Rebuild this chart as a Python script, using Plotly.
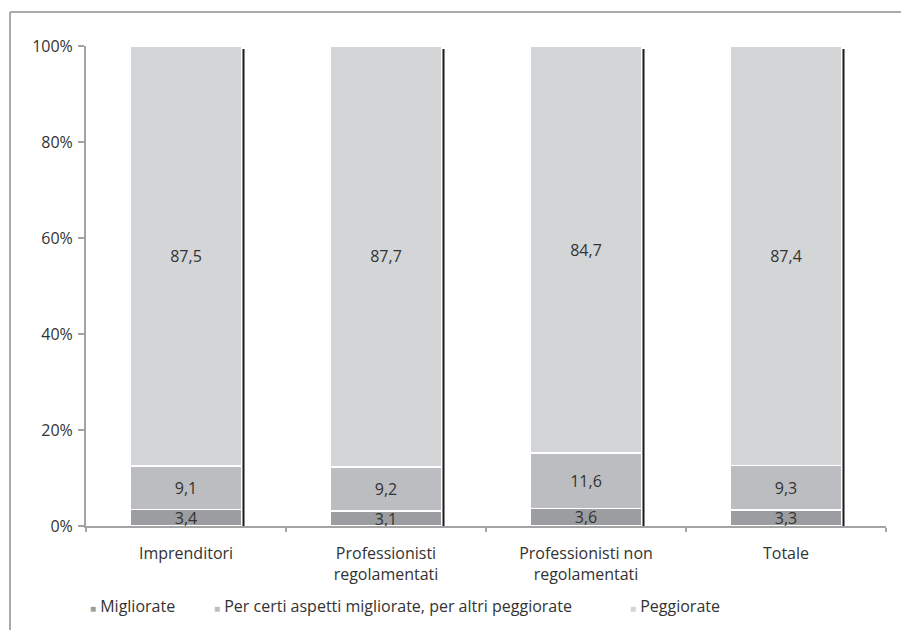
import plotly.graph_objects as go

categories = ["Imprenditori", "Professionisti<br>regolamentati",
              "Professionisti non<br>regolamentati", "Totale"]
migliorate = [3.4, 3.1, 3.6, 3.3]
in_parte = [9.1, 9.2, 11.6, 9.3]
peggiorate = [87.5, 87.7, 84.7, 87.4]
series_names = ["Migliorate",
                "Per certi aspetti migliorate, per altri peggiorate",
                "Peggiorate"]
y_ticks = [0, 20, 40, 60, 80, 100]

colors = ["#9c9da0", "#bcbdc0", "#d4d5d7"]
FONT = "Open Sans"
TXT = "#333333"
AX = "#a3a3a3"
BAR_W = 0.56
FS = 16


def fmt(v):
    return f"{v:.1f}".replace(".", ",")


fig = go.Figure()
for name, vals, col in zip(series_names, [migliorate, in_parte, peggiorate], colors):
    fig.add_trace(go.Bar(
        x=categories, y=vals, name=name, width=BAR_W,
        marker=dict(color=col, line=dict(color="white", width=1.5)),
        text=[fmt(v) for v in vals], textposition="inside",
        insidetextanchor="middle", constraintext="none",
        textfont=dict(family=FONT, size=FS, color=TXT),
        showlegend=False, hoverinfo="skip",
    ))

# dark shadow on the right side of each bar
for i in range(len(categories)):
    xs = i + BAR_W / 2 + 0.0075
    fig.add_shape(type="line", xref="x", yref="y", x0=xs, x1=xs, y0=0, y1=99.4,
                  line=dict(color="#1a1a1a", width=2))

# outer frame (top and left)
fig.add_shape(type="line", xref="paper", yref="paper", x0=-0.095, x1=1.03,
              y0=1.0708, y1=1.0708, line=dict(color="#aaaaaa", width=2))
fig.add_shape(type="line", xref="paper", yref="paper", x0=-0.095, x1=-0.095,
              y0=1.0708, y1=-0.23, line=dict(color="#aaaaaa", width=2))

# legend as annotations
leg_x = [0.0025, 0.1575, 0.6775]
for name, col, lx in zip(series_names, colors, leg_x):
    fig.add_annotation(
        xref="paper", yref="paper", x=lx, y=-0.1667, xanchor="left", yanchor="middle",
        showarrow=False,
        text=f'<span style="color:{col};font-size:10px">■</span> {name}',
        font=dict(family=FONT, size=FS, color=TXT),
    )

fig.update_layout(
    barmode="stack",
    width=901, height=630,
    margin=dict(l=86, r=15, t=46, b=104),
    paper_bgcolor="white", plot_bgcolor="white",
    font=dict(family=FONT, size=FS, color=TXT),
    showlegend=False,
    xaxis=dict(type="category", range=[-0.5, 3.5], showline=True, linecolor=AX,
               linewidth=2, ticks="outside", tickson="boundaries", ticklen=4,
               tickcolor=AX, tickwidth=2, showgrid=False, ticklabelstandoff=12,
               tickfont=dict(family=FONT, size=FS, color=TXT)),
    yaxis=dict(range=[0, 100], tickvals=y_ticks, ticktext=[f"{v}%" for v in y_ticks],
               showline=True, linecolor=AX, linewidth=2, ticks="outside", ticklen=6,
               tickcolor=AX, tickwidth=2, showgrid=False, zeroline=False,
               ticklabelstandoff=2, tickfont=dict(family=FONT, size=FS, color=TXT)),
)

fig.write_html("out.html")
